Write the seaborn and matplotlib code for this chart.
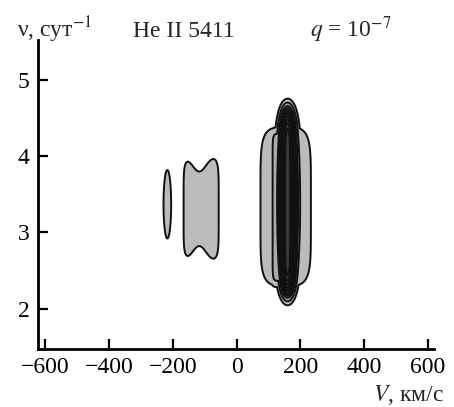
import numpy as np
import matplotlib
matplotlib.use("Agg")
import matplotlib.pyplot as plt
import seaborn as sns

# contour blobs: centre V (km/s), centre nu (1/day),
# half sizes, peak level and shape exponents
blob_v = [-217, -111, 154, 145, 160]
blob_nu = [3.37, 3.31, 3.34, 3.33, 3.40]
blob_wv = [14.4, 58.5, 86.6, 35.8, 26.0]
blob_wnu = [0.54, 0.733, 1.106, 1.021, 1.20]
blob_amp = [0.2, 0.2, 0.2, 0.45, 3.0]
blob_pv = [2, 6, 4, 8, 2]
blob_pnu = [2, 6, 6, 16, 10]

# notch in the top/bottom of the second blob
notch_v = -117
notch_w = 30
notch_depth = 0.29
# narrowing of the bright core towards its ends
core_taper = 0.4

levels = [0.1, 0.3, 0.6, 0.9, 1.2, 1.5, 1.8, 2.1, 2.4, 2.7, 3.01]
xticks = [-600, -400, -200, 0, 200, 400, 600]
yticks = [2, 3, 4, 5]

sns.set_style("ticks")
plt.rcParams['font.family'] = ['Liberation Serif', 'DejaVu Serif']
plt.rcParams['mathtext.fontset'] = 'stix'

v = np.linspace(-650, 650, 1400)
nu = np.linspace(1.3, 5.7, 1000)
V, NU = np.meshgrid(v, nu)

field = np.zeros_like(V)
for i in range(len(blob_v)):
    wv = blob_wv[i]
    wnu = blob_wnu[i]
    dnu = NU - blob_nu[i]
    if i == 1:
        wnu = wnu * (1 - notch_depth * np.exp(-((V - notch_v) / notch_w) ** 2))
    if i == len(blob_v) - 1:
        wv = wv * np.clip(1 - core_taper * (dnu / 1.4) ** 2, 0.2, 1)
    g = blob_amp[i] * np.exp(-(np.abs((V - blob_v[i]) / wv) ** blob_pv[i]
                               + np.abs(dnu / wnu) ** blob_pnu[i]))
    field = np.maximum(field, g)

fig = plt.figure(figsize=(4.54, 4.07), dpi=100)
ax = fig.add_axes([0.084, 0.1425, 0.872, 0.76])

colors = ['#bbbbbb', '#ababab'] + ['#3a3a3a'] * (len(levels) - 3)
ax.contourf(V, NU, field, levels=levels, colors=colors)
ax.contour(V, NU, field, levels=levels[:-1], colors='#111111', linewidths=1.4)

ax.set_xlim(-622, 619)
ax.set_ylim(1.47, 5.53)
ax.set_xticks(xticks)
ax.set_yticks(yticks)
ax.set_xticklabels([str(t).replace('-', '\u2212') for t in xticks])
sns.despine(ax=ax)
for s in ['left', 'bottom']:
    ax.spines[s].set_linewidth(2)
    ax.spines[s].set_color('black')
ax.tick_params(direction='in', length=7, width=1.6, labelsize=17, colors='black', pad=6)

fig.text(0.037, 0.909, "ν, сут$^{-1}$", fontsize=17, va='baseline')
fig.text(0.293, 0.909, "He II 5411", fontsize=17, va='baseline')
fig.text(0.683, 0.909, "$q$ = 10$^{-7}$", fontsize=17, va='baseline')
fig.text(0.978, 0.03, "$V$, км/с", fontsize=17, ha='right', va='center')

fig.savefig("out.png", dpi=100)
